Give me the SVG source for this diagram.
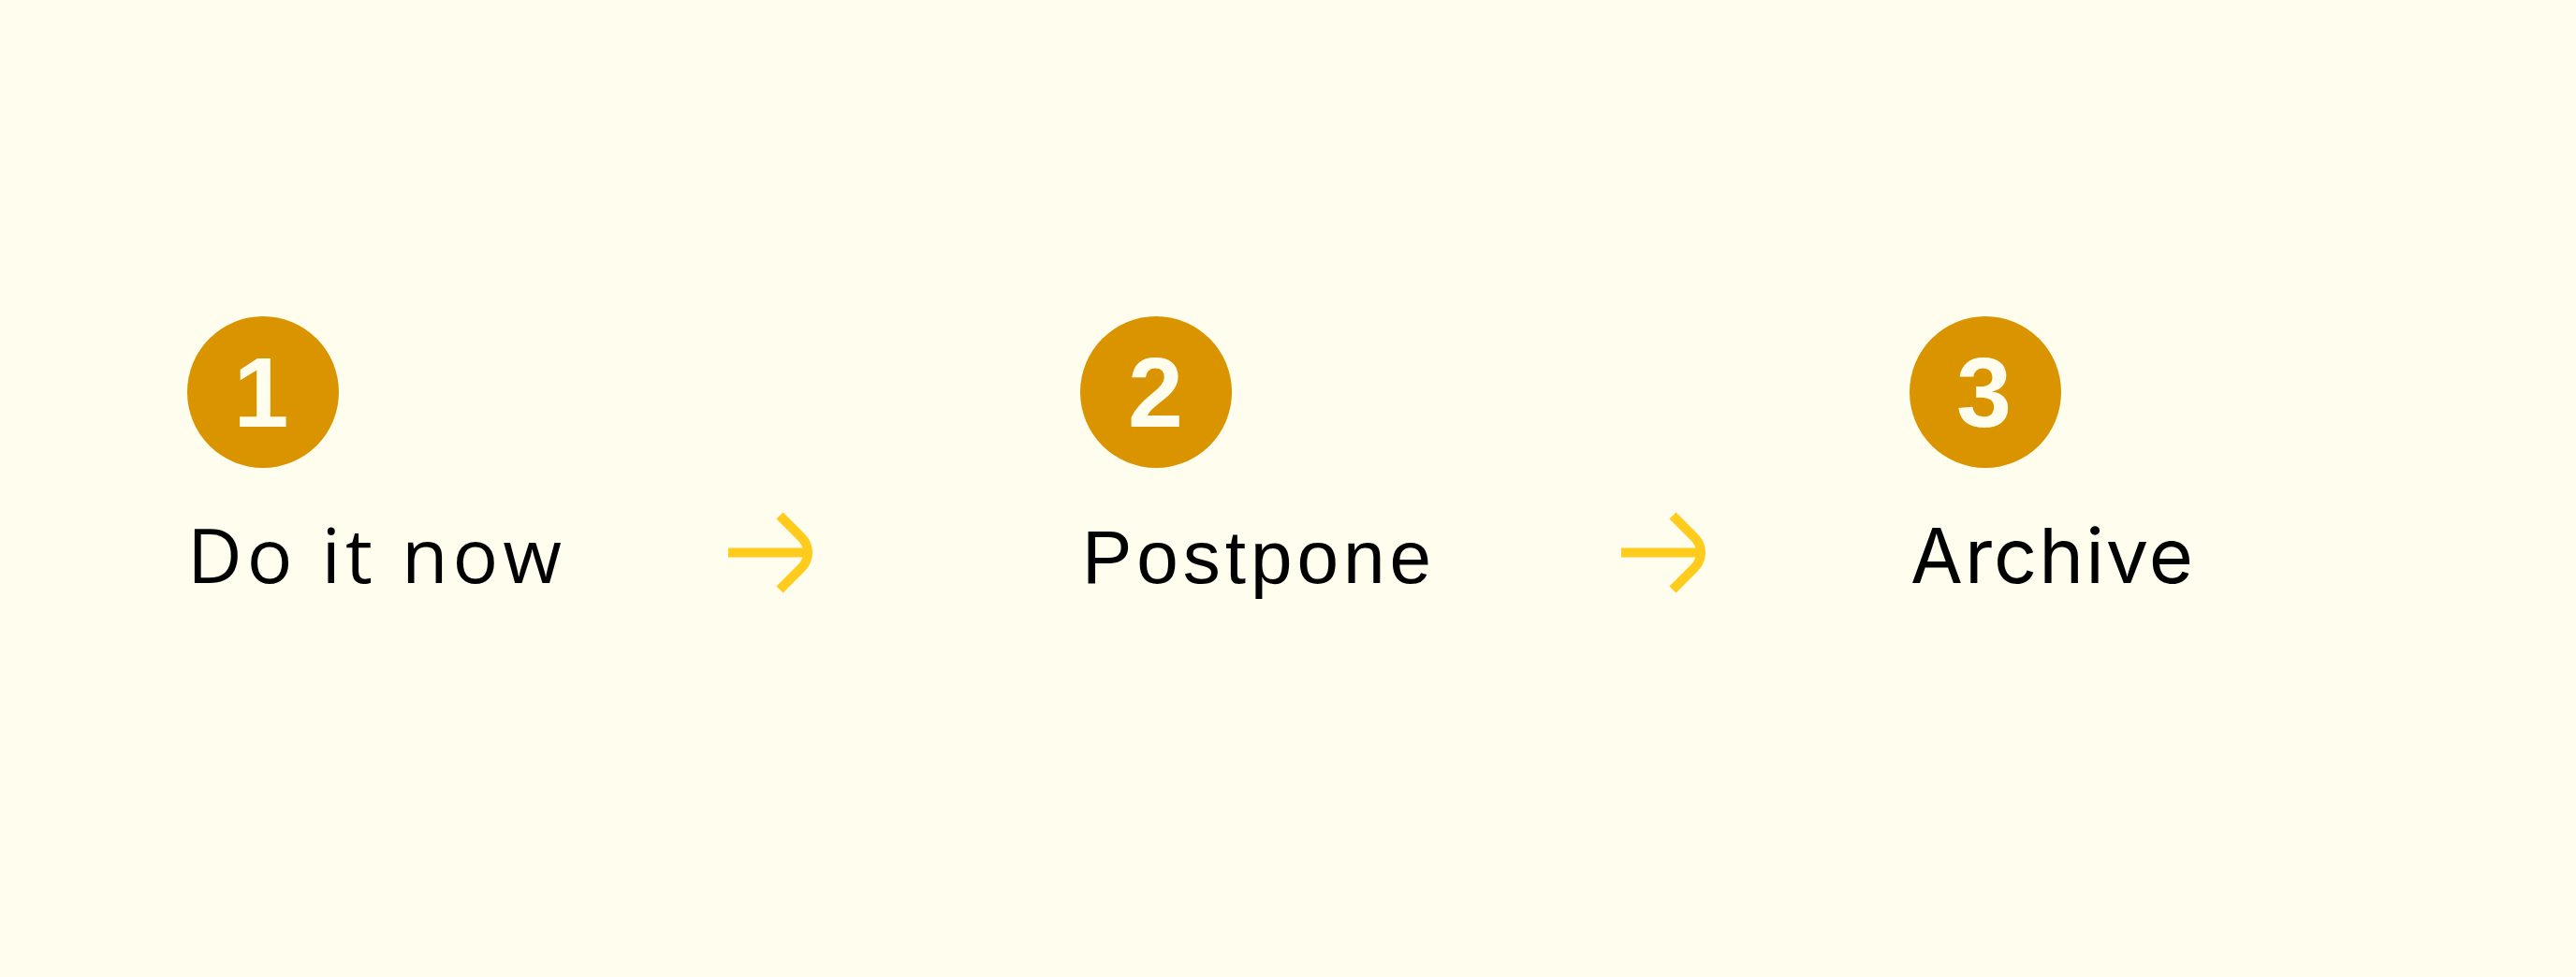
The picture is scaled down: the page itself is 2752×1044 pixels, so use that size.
<svg xmlns="http://www.w3.org/2000/svg" width="2752" height="1044" viewBox="0 0 2752 1044">
<style>
.badge{fill:#D99400}
.arrow{fill:none;stroke:#FFCB1D;stroke-width:10;stroke-linecap:butt;stroke-linejoin:round}
</style>
<rect width="2752" height="1044" fill="#FFFDEE"/>
<g id="node-1">
<circle class="badge" cx="281" cy="419" r="81"/>
<text x="279" y="456" font-family="Arial, sans-serif" font-size="106" font-weight="bold" text-anchor="middle" fill="#FFFDEE">1</text>
<text x="200" y="623" font-family="Open Sans, sans-serif" font-size="81" letter-spacing="5" fill="#000000">Do it now</text>
</g>
<g id="node-2">
<circle class="badge" cx="1235" cy="419" r="81"/>
<text x="1234.5" y="456" font-family="Arial, sans-serif" font-size="106" font-weight="bold" text-anchor="middle" fill="#FFFDEE">2</text>
<text x="1156" y="623" font-family="Liberation Sans, Arial, sans-serif" font-size="80" letter-spacing="5" fill="#000000">Postpone</text>
</g>
<g id="node-3">
<circle class="badge" cx="2121" cy="419" r="81"/>
<text x="2119.5" y="456" font-family="Arial, sans-serif" font-size="106" font-weight="bold" text-anchor="middle" fill="#FFFDEE">3</text>
<text x="2041" y="623" font-family="Inter, sans-serif" font-size="81" letter-spacing="2" fill="#000000">Archive</text>
</g>
<g id="connectors">
<path class="arrow" d="M778,590.5 H862"/>
<path class="arrow" d="M833,551 L856,574 Q863,581 863,590.5 Q863,600 856,607 L833,630"/>
<path class="arrow" d="M1732,590.5 H1816"/>
<path class="arrow" d="M1787,551 L1810,574 Q1817,581 1817,590.5 Q1817,600 1810,607 L1787,630"/>
</g>
</svg>
